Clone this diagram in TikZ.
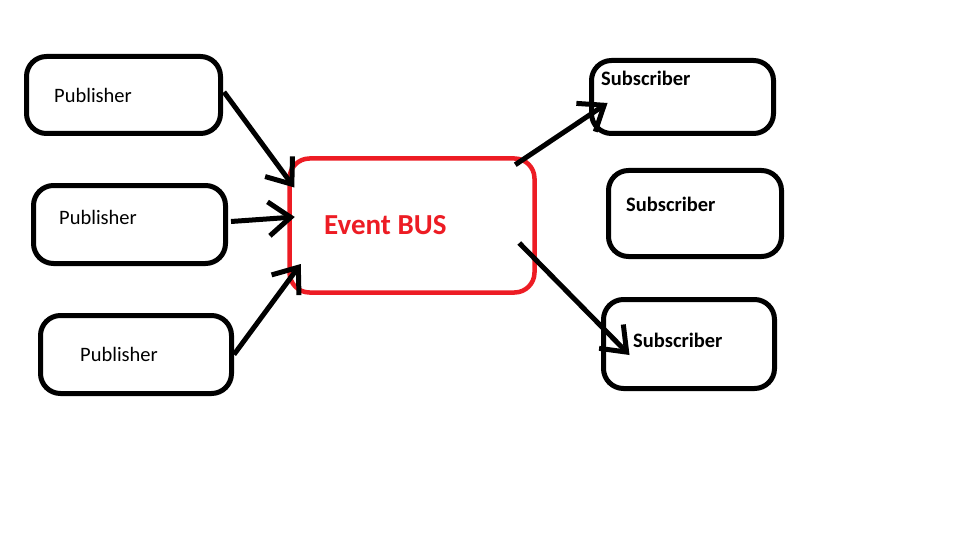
\documentclass[tikz,border=0pt]{standalone}
\usepackage{fontspec}
\setmainfont{Carlito}
\usetikzlibrary{arrows.meta,calc}
\definecolor{busred}{RGB}{237,28,36}

\begin{document}
\begin{tikzpicture}
    [
        x=1pt, y=-1pt,
        publisher/.style={draw, line width=5pt, rounded corners=20pt},
        subscriber/.style={draw, line width=5pt, rounded corners=20pt},
        eventbus/.style={draw=busred, line width=4.5pt, rounded corners=20pt},
        pubtext/.style={anchor=base west, inner sep=0pt, font=\fontsize{20.5}{24}\selectfont},
        subtext/.style={anchor=base west, inner sep=0pt, font=\bfseries\fontsize{20.5}{24}\selectfont},
        bustext/.style={anchor=base west, inner sep=0pt, text=busred, font=\bfseries\fontsize{29}{34}\selectfont},
        seta/.style={line width=5pt, -{Straight Barb[length=22pt,width=34pt,line width=5pt]}},
    ]
    \useasboundingbox[fill=white] (0,0) rectangle (960,540);
    % publishers
    \node[publisher, minimum width=194pt, minimum height=77pt] (pub1) at (123.5,95) {};
    \node[publisher, minimum width=192pt, minimum height=78pt] (pub2) at (129.5,224.5) {};
    \node[publisher, minimum width=191pt, minimum height=78pt] (pub3) at (136,354.5) {};
    \node[pubtext] (pub1txt) at (54,103) {Publisher};
    \node[pubtext] (pub2txt) at (59,224) {Publisher};
    \node[pubtext] (pub3txt) at (80,361) {Publisher};
    % event bus
    \node[eventbus, minimum width=245pt, minimum height=134pt] (bus) at (412,225.5) {};
    \node[bustext] (bustxt) at (324,234) {Event BUS};
    % subscribers
    \node[subscriber, minimum width=182pt, minimum height=73pt] (sub1) at (682.5,97) {};
    \node[subscriber, minimum width=173pt, minimum height=86pt] (sub2) at (695,213.5) {};
    \node[subscriber, minimum width=171pt, minimum height=89pt] (sub3) at (689,344) {};
    \node[subtext] (sub1txt) at (601,86) {Subscriber};
    \node[subtext] (sub2txt) at (626,211) {Subscriber};
    \node[subtext] (sub3txt) at (633,347) {Subscriber};
    % setas
    \draw[seta] ($(pub1.east)+(1,-3)$) -- ($(bus.west)+(7,-38)$);
    \draw[seta] ($(pub2.east)+(3,-3)$) -- ($(bus.west)+(7.5,-8.5)$);
    \draw[seta] (pub3.east) -- ($(bus.west)+(13.5,38.5)$);
    \draw[seta] ($(bus.north east)+(-21.5,8.5)$) -- ($(sub1.west)+(18.5,6)$);
    \draw[seta] ($(bus.east)+(-17.5,17.5)$) -- ($(sub3.west)+(28.5,11)$);
\end{tikzpicture}
\end{document}
